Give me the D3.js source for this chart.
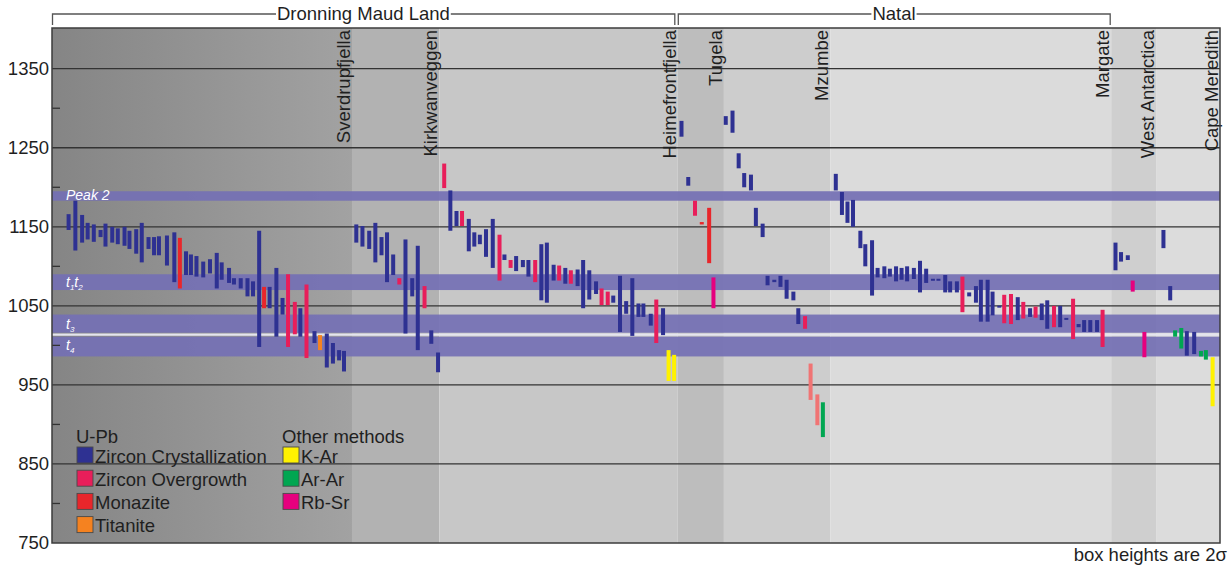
<!DOCTYPE html>
<html>
<head>
<meta charset="utf-8">
<script src="https://cdn.jsdelivr.net/npm/d3@7"></script>
<style>
  body { margin: 0; background: #fff; }
  svg { display: block; font-family: "Liberation Sans", Arial, sans-serif; }
</style>
</head>
<body>
<svg id="chart" width="1231" height="570"></svg>
<script>
// Age axis (Ma)
const ageTicks = [750, 850, 950, 1050, 1150, 1250, 1350];
const minorTicks = [800, 900, 1000, 1100, 1200, 1300];

// Localities along the transect: name, right edge (sample slot), panel shade
const localities = ["Sverdrupfjella", "Kirkwanveggen", "Heimefrontfjella", "Tugela",
                    "Mzumbe", "Margate", "West Antarctica", "Cape Meredith"];
const localityEnds = [48.8, 63.0, 101.8, 109.3, 126.6, 172.3, 179.6, 190];
const localityShades = ["grad", "#b2b2b2", "#c7c7c7", "#bdbdbd", "#cdcdcd", "#dbdbdb", "#cfcfcf", "#dcdcdc"];

// Regional groupings (first and last locality index)
const regions = ["Dronning Maud Land", "Natal"];
const regionFirst = [0, 3];
const regionLast = [2, 5];

// Metamorphic / magmatic event bands (Ma)
const bandNames = ["Peak 2", "t1t2", "t3", "t4"];
const bandLow = [1183, 1070, 1016, 986];
const bandHigh = [1195, 1090, 1039, 1011];

// Dating methods
const methodKeys = ["zc", "zo", "mz", "ti", "kar", "arar", "rbsr", "mzl"];
const methodLabels = ["Zircon Crystallization", "Zircon Overgrowth", "Monazite", "Titanite",
                      "K-Ar", "Ar-Ar", "Rb-Sr", "Monazite (other)"];
const methodColors = ["#2e3192", "#e81e5a", "#e8262b", "#f58220",
                      "#fff200", "#00a651", "#e6007e", "#f07474"];
const upbLegend = ["zc", "zo", "mz", "ti"];
const otherLegend = ["kar", "arar", "rbsr"];

// Samples: slot along the transect, upper and lower age (2 sigma), method
const samplePos = [
  2.7, 3.8, 4.9, 5.8, 6.8, 7.9, 8.7, 9.8, 10.7, 11.8, 12.6, 13.7, 14.6, 15.7, 16.6, 17.4, 18.7, 19.9, 20.8, 21.8,
  22.6, 23.5, 24.6, 25.7, 26.8, 27.6, 28.8, 29.6, 30.7, 31.8, 32.7, 33.7, 34.5, 35.4, 36.5, 37.5, 38.4, 39.5, 40.4, 41.4,
  42.7, 43.6, 44.7, 45.7, 46.7, 47.5,
  49.5, 50.5, 51.6, 52.6, 53.6, 54.5, 55.5, 56.5, 57.5, 58.6, 59.5, 60.6, 61.7, 62.8,
  63.8, 64.8, 65.8, 66.7, 67.8, 68.7, 69.6, 70.6, 71.7, 72.8, 73.6, 74.6, 75.5, 76.6, 77.5, 78.6, 79.6, 80.5, 81.6, 82.5,
  83.5, 84.4, 85.5, 86.4, 87.4, 88.5, 89.4, 90.4, 91.3, 92.4, 93.4, 94.4, 95.4, 96.2, 97.4, 98.3, 99.4, 100.3, 101.2,
  102.4, 103.5, 104.6, 105.7, 106.9, 107.6,
  109.6, 110.7, 111.7, 112.6, 113.7, 114.5, 115.6, 116.4, 117.5, 118.5, 119.5, 120.6, 121.4, 122.5, 123.4, 124.5, 125.4,
  127.5, 128.5, 129.4, 130.3, 131.5, 132.3, 133.4, 134.3, 135.4, 136.3, 137.3, 138.2, 139.1, 140.2, 141.2, 142.2, 143.3,
  144.2, 145.3, 146.1, 147.2, 148.1, 149.2, 150.3, 151.1, 152.2, 153.0, 154.1, 154.9, 156.0, 157.1, 158.0, 159.1, 160.0,
  161.0, 161.9, 163.0, 164.0, 165.0, 166.1, 167.0, 167.9, 168.9, 170.0, 170.9,
  173.0, 173.9, 175.0, 175.8, 177.7,
  180.8, 181.9, 182.7, 183.7, 184.6, 185.8, 186.9, 187.7, 188.8
];
const ageHigh = [
  1166, 1183, 1165, 1155, 1153, 1146, 1154, 1150, 1148, 1150, 1145, 1147, 1155, 1137, 1137, 1138, 1139, 1143, 1136, 1119,
  1115, 1113, 1106, 1109, 1117, 1105, 1098, 1085, 1085, 1085, 1081, 1145, 1074, 1074, 1098, 1060, 1090, 1055, 1047, 1077,
  1018, 1013, 1015, 1003, 994, 993,
  1153, 1151, 1145, 1155, 1137, 1143, 1115, 1085, 1134, 1085, 1126, 1075, 1019, 991,
  1230, 1196, 1170, 1170, 1160, 1143, 1140, 1147, 1160, 1140, 1115, 1108, 1113, 1108, 1108, 1108, 1128, 1130, 1102, 1101,
  1098, 1095, 1096, 1108, 1095, 1081, 1072, 1068, 1063, 1088, 1056, 1085, 1053, 1053, 1040, 1058, 1047, 994, 988,
  1284, 1213, 1183, 1156, 1174, 1086,
  1290, 1297, 1243, 1218, 1216, 1174, 1154, 1088, 1083, 1088, 1083, 1068, 1047, 1037, 977, 938, 928,
  1217, 1194, 1182, 1184, 1145, 1128, 1133, 1098, 1100, 1097, 1100, 1098, 1100, 1098, 1107, 1097, 1084,
  1084, 1089, 1081, 1081, 1087, 1067, 1075, 1083, 1083, 1068, 1050, 1064, 1065, 1061, 1055, 1047, 1049,
  1053, 1057, 1050, 1050, 1034, 1059, 1027, 1032, 1032, 1032, 1045,
  1130, 1118, 1114, 1082, 1017,
  1146, 1075, 1019, 1022, 1018, 1017, 993, 994, 985
];
const ageLow = [
  1146, 1120, 1130, 1134, 1131, 1137, 1125, 1130, 1128, 1126, 1122, 1116, 1105, 1122, 1114, 1114, 1101, 1080, 1072, 1089,
  1089, 1087, 1086, 1091, 1072, 1083, 1079, 1077, 1072, 1062, 1062, 998, 1047, 1047, 1011, 1039, 998, 1014, 1011, 984,
  1003, 994, 972, 977, 981, 967,
  1130, 1125, 1122, 1105, 1114, 1080, 1089, 1077, 1015, 1062, 994, 1047, 1002, 966,
  1199, 1145, 1151, 1151, 1119, 1125, 1128, 1112, 1098, 1082, 1108, 1098, 1094, 1099, 1087, 1080, 1057, 1054, 1082, 1082,
  1078, 1078, 1075, 1047, 1058, 1065, 1051, 1051, 1054, 1017, 1040, 1012, 1036, 1036, 1025, 1003, 1013, 955, 955,
  1264, 1202, 1164, 1153, 1104, 1047,
  1279, 1269, 1224, 1200, 1196, 1151, 1137, 1076, 1080, 1074, 1059, 1057, 1027, 1021, 931, 899, 884,
  1196, 1165, 1155, 1150, 1123, 1100, 1063, 1086, 1085, 1087, 1081, 1083, 1081, 1084, 1067, 1079, 1082,
  1082, 1067, 1067, 1067, 1042, 1062, 1054, 1030, 1030, 1038, 1048, 1028, 1027, 1032, 1034, 1036, 1035,
  1032, 1021, 1023, 1023, 1033, 1008, 1023, 1017, 1017, 1017, 998,
  1095, 1106, 1108, 1068, 985,
  1123, 1057, 1011, 996, 987, 989, 986, 982, 923
];
const sampleMethod = [
  "zc","zc","zc","zc","zc","zc","zc","zc","zc","zc","zc","zc","zc","zc","zc","zc","zc","zc","mz","zc",
  "zc","zc","zc","zc","zc","zc","zc","zc","zc","zc","zc","zc","mz","zc","zc","zc","zo","zo","zc","zo",
  "zc","ti","zc","zc","zc","zc",
  "zc","zc","zc","zc","zc","zc","zc","zo","zc","zc","zc","zo","zc","zc",
  "zo","zc","zc","zo","zc","zc","zc","zc","zc","zo","zc","zo","zc","zc","zc","zo","zc","zc","zc","zo",
  "zc","zo","zc","zc","zc","zc","zo","zo","zc","zc","zc","zc","zc","zc","zc","zo","zc","kar","kar",
  "zc","zc","zo","mz","mz","rbsr",
  "zc","zc","zc","zc","zc","zc","zc","zc","zc","zc","zc","zc","zc","zo","mzl","mzl","arar",
  "zc","zc","zc","zc","zc","zc","zc","zc","zc","zc","zc","zc","zc","zc","zc","zc","zc",
  "zc","zc","zc","zc","zo","zc","zc","zc","zc","zc","zc","zo","zo","zc","zo","zc","zo",
  "zc","zc","zo","zc","zc","zo","zc","zc","zc","zc","zo",
  "zc","zc","zc","rbsr","rbsr",
  "zc","zc","arar","arar","zc","zc","arar","arar","kar"
];

const svg = d3.select("#chart");
const plot = { left: 52, right: 1220, top: 28, bottom: 543 };
const textColor = "#1f1f1f";
const FONT = 18.5;

const x = d3.scaleLinear().domain([0, 190]).range([plot.left, plot.right]);
const y = d3.scaleLinear().domain([750, 1401.5]).range([plot.bottom, plot.top]);
const color = d3.scaleOrdinal().domain(methodKeys).range(methodColors);

// Horizontal gradient for the first panel
const defs = svg.append("defs");
const grad = defs.append("linearGradient").attr("id", "panelGrad")
  .attr("x1", "0%").attr("x2", "100%").attr("y1", "0%").attr("y2", "0%");
grad.append("stop").attr("offset", "0%").attr("stop-color", "#858585");
grad.append("stop").attr("offset", "100%").attr("stop-color", "#a2a2a2");

// Locality panels
const panels = localities.map((name, i) => ({
  name, start: i === 0 ? 0 : localityEnds[i - 1], end: localityEnds[i], shade: localityShades[i]
}));
svg.append("g").selectAll("rect").data(panels).join("rect")
  .attr("x", d => x(d.start)).attr("y", plot.top)
  .attr("width", d => x(d.end) - x(d.start)).attr("height", plot.bottom - plot.top)
  .attr("fill", d => d.shade === "grad" ? "url(#panelGrad)" : d.shade);

// Event bands
const bands = bandNames.map((n, i) => ({ name: n, lo: bandLow[i], hi: bandHigh[i] }));
svg.append("g").selectAll("rect").data(bands).join("rect")
  .attr("x", plot.left).attr("width", plot.right - plot.left)
  .attr("y", d => y(d.hi)).attr("height", d => y(d.lo) - y(d.hi))
  .attr("fill", "#7470b4").attr("fill-opacity", 0.92);
// pale divider between t3 and t4
svg.append("line")
  .attr("x1", plot.left).attr("x2", plot.right)
  .attr("y1", (y(bandLow[2]) + y(bandHigh[3])) / 2).attr("y2", (y(bandLow[2]) + y(bandHigh[3])) / 2)
  .attr("stroke", "#e4e4ee").attr("stroke-width", 2.2);

// Gridlines at labelled ages
svg.append("g").selectAll("line").data(ageTicks.filter(t => t > 750)).join("line")
  .attr("x1", plot.left).attr("x2", plot.right)
  .attr("y1", d => y(d)).attr("y2", d => y(d))
  .attr("stroke", "#333").attr("stroke-width", 1.3);

// Minor ticks
svg.append("g").selectAll("line").data(minorTicks).join("line")
  .attr("x1", plot.left).attr("x2", plot.left + 8)
  .attr("y1", d => y(d)).attr("y2", d => y(d))
  .attr("stroke", "#333").attr("stroke-width", 1.3);

// Band labels
const bandLabel = svg.append("g").attr("fill", "#fff").attr("font-style", "italic").attr("font-size", 14);
bandLabel.append("text").attr("x", 66).attr("y", y(bandLow[0]) - 1).text("Peak 2");
const t12 = bandLabel.append("text").attr("x", 66).attr("y", y(bandLow[1]) - 3);
t12.append("tspan").text("t");
t12.append("tspan").attr("font-size", 8).attr("dy", 3).text("1");
t12.append("tspan").attr("dy", -3).text("t");
t12.append("tspan").attr("font-size", 8).attr("dy", 3).text("2");
const t3 = bandLabel.append("text").attr("x", 66).attr("y", y(bandLow[2]) - 4);
t3.append("tspan").text("t");
t3.append("tspan").attr("font-size", 8).attr("dy", 3).text("3");
const t4 = bandLabel.append("text").attr("x", 66).attr("y", y(bandLow[3]) - 6);
t4.append("tspan").text("t");
t4.append("tspan").attr("font-size", 8).attr("dy", 3).text("4");

// Sample age bars
const samples = samplePos.map((p, i) => ({ pos: p, hi: ageHigh[i], lo: ageLow[i], method: sampleMethod[i] }));
svg.append("g").selectAll("rect").data(samples).join("rect")
  .attr("x", d => x(d.pos) - 2).attr("width", 4)
  .attr("y", d => {
    const h = y(d.lo) - y(d.hi);
    return h < 2 ? (y(d.lo) + y(d.hi)) / 2 - 1 : y(d.hi);
  })
  .attr("height", d => Math.max(2, y(d.lo) - y(d.hi)))
  .attr("fill", d => color(d.method));

// Locality names, rotated, at the right edge of each panel
svg.append("g").selectAll("text").data(panels).join("text")
  .attr("transform", d => `translate(${x(d.end) - 2},${plot.top + 2}) rotate(-90)`)
  .attr("text-anchor", "end")
  .attr("font-size", FONT).attr("fill", textColor)
  .text(d => d.name);

// Frame
svg.append("rect").attr("x", plot.left).attr("y", plot.top)
  .attr("width", plot.right - plot.left).attr("height", plot.bottom - plot.top)
  .attr("fill", "none").attr("stroke", "#3c3c3c").attr("stroke-width", 1.5);

// Age axis labels
const axis = d3.axisLeft(y).tickValues(ageTicks).tickSize(0).tickPadding(3).tickFormat(d3.format("d"));
const axisG = svg.append("g").attr("transform", `translate(${plot.left},0)`).call(axis);
axisG.select(".domain").remove();
axisG.selectAll("text").attr("font-size", FONT).attr("fill", textColor)
  .attr("font-family", "'Liberation Sans', Arial, sans-serif");

// Regional brackets above the panels
const bracketY = 14, tickDrop = 11;
const bracketG = svg.append("g");
regions.forEach((name, i) => {
  const x0 = regionFirst[i] === 0 ? x(0) : x(localityEnds[regionFirst[i] - 1]);
  const x1 = x(localityEnds[regionLast[i]]) - (i === 0 ? 3 : 1);
  const cx = (x0 + x1) / 2;
  const label = bracketG.append("text").attr("x", cx).attr("y", bracketY + 6)
    .attr("text-anchor", "middle").attr("font-size", FONT).attr("fill", textColor).text(name);
  const w = label.node().getComputedTextLength();
  const path = d3.path();
  path.moveTo(x0 + 0.5, bracketY + tickDrop);
  path.lineTo(x0 + 0.5, bracketY);
  path.lineTo(cx - w / 2 - 1, bracketY);
  path.moveTo(cx + w / 2 + 1, bracketY);
  path.lineTo(x1, bracketY);
  path.lineTo(x1, bracketY + tickDrop);
  bracketG.append("path").attr("d", path.toString())
    .attr("fill", "none").attr("stroke", "#555").attr("stroke-width", 1.3);
});

// Legend
const legend = svg.append("g").attr("font-size", FONT).attr("fill", textColor);
function legendColumn(x0, title, keys) {
  legend.append("text").attr("x", x0 - 1).attr("y", 442.5).text(title);
  keys.forEach((k, i) => {
    const idx = methodKeys.indexOf(k);
    legend.append("rect").attr("x", x0).attr("y", 447 + i * 23.2)
      .attr("width", 16).attr("height", 16)
      .attr("fill", methodColors[idx]).attr("stroke", "#4a4a4a").attr("stroke-width", 0.9);
    legend.append("text").attr("x", x0 + 18).attr("y", 462.5 + i * 23.2).text(methodLabels[idx]);
  });
}
legendColumn(77, "U-Pb", upbLegend);
legendColumn(283, "Other methods", otherLegend);

// Footnote
svg.append("text").attr("x", 1227).attr("y", 561).attr("text-anchor", "end")
  .attr("font-size", FONT).attr("fill", textColor).text("box heights are 2σ");
</script>
</body>
</html>
